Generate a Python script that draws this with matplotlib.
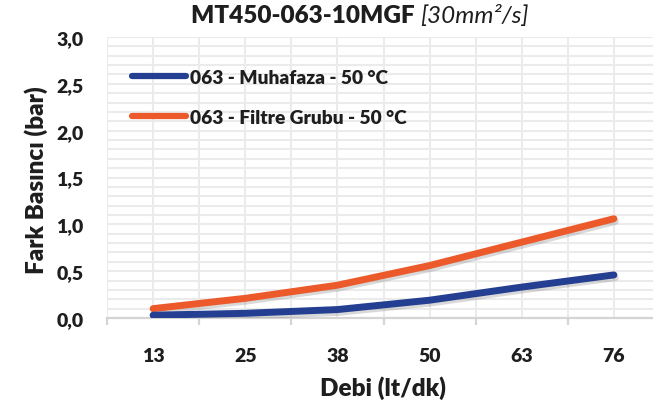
import matplotlib
matplotlib.use('Agg')
import matplotlib.pyplot as plt
from matplotlib import patheffects as pe
from matplotlib.lines import Line2D
from matplotlib.offsetbox import TextArea, HPacker, AnchoredOffsetbox

plt.rcParams['font.family'] = ['Lato', 'DejaVu Sans']

categories = ['13', '25', '38', '50', '63', '76']
muhafaza = [0.03, 0.05, 0.09, 0.19, 0.33, 0.46]
filtre = [0.10, 0.21, 0.35, 0.56, 0.81, 1.06]
series_labels = ['063 - Muhafaza - 50 °C', '063 - Filtre Grubu - 50 °C']
yticks = [0.0, 0.5, 1.0, 1.5, 2.0, 2.5, 3.0]
ytick_labels = ['0,0', '0,5', '1,0', '1,5', '2,0', '2,5', '3,0']

BLUE = '#243F91'
ORANGE = '#EC5A2B'
TXT = '#1E1E1E'
GRID = '#EBEBEB'
WEIGHT = 'heavy'

W, H = 653, 410
fig = plt.figure(figsize=(W / 100, H / 100), dpi=100)
ax = fig.add_axes([107 / W, 91 / H, 553 / W, 281 / H])

x = list(range(len(categories)))
shadow = [pe.SimpleLineShadow(offset=(1.0, -2.0), shadow_color='#555555', alpha=0.22), pe.Normal()]
ax.plot(x, muhafaza, color=BLUE, lw=5, solid_capstyle='round', solid_joinstyle='round',
        path_effects=shadow, zorder=4)
ax.plot(x, filtre, color=ORANGE, lw=5, solid_capstyle='round', solid_joinstyle='round',
        path_effects=shadow, zorder=3)

ax.set_xlim(-0.5, len(categories) - 0.5)
ax.set_ylim(0, 3.0)

ax.set_xticks(x)
ax.set_xticklabels(categories)
ax.set_xticks([i - 0.5 for i in range(len(categories) + 1)], minor=True)
ax.set_yticks(yticks)
ax.set_yticklabels(ytick_labels)
ax.set_yticks([i / 10 for i in range(31)], minor=True)

ax.grid(True, which='both', axis='both', color=GRID, lw=1.5, zorder=0)
ax.set_axisbelow(True)

for s in ['top', 'right', 'left']:
    ax.spines[s].set_visible(False)
ax.spines['bottom'].set_color('#D4D4D4')
ax.spines['bottom'].set_linewidth(1.6)

ax.tick_params(axis='x', which='major', length=0, pad=21, labelsize=14, labelcolor=TXT)
ax.tick_params(axis='x', which='minor', length=5, width=1.6, color='#D4D4D4')
ax.tick_params(axis='y', which='both', length=0, pad=17, labelsize=14, labelcolor=TXT)
for lab in ax.get_xticklabels() + ax.get_yticklabels():
    lab.set_fontweight(WEIGHT)

fig.text(36 / W, 1 - 180 / H, 'Fark Basıncı (bar)', rotation=90, ha='center', va='center',
         fontsize=17.5, fontweight=WEIGHT, color=TXT)
fig.text(383 / W, 1 - 388 / H, 'Debi (lt/dk)', ha='center', va='center',
         fontsize=17.5, fontweight=WEIGHT, color=TXT)

t1 = TextArea('MT450-063-10MGF ', textprops=dict(fontweight=WEIGHT, fontsize=17.5, color=TXT))
t2 = TextArea('[30mm²/s]', textprops=dict(fontstyle='italic', fontsize=17.5, color=TXT))
box = HPacker(children=[t1, t2], align='baseline', pad=0, sep=0)
anch = AnchoredOffsetbox(loc='center', child=box, bbox_to_anchor=(360 / W, 1 - 16 / H),
                         bbox_transform=fig.transFigure, frameon=False, pad=0, borderpad=0)
fig.add_artist(anch)

handles = [Line2D([], [], color=BLUE, lw=4.5, solid_capstyle='round'),
           Line2D([], [], color=ORANGE, lw=4.5, solid_capstyle='round')]
leg = ax.legend(handles, series_labels, loc='upper left', bbox_to_anchor=(132 / W, 1 - 70 / H),
                bbox_transform=fig.transFigure, frameon=False, handlelength=2.8,
                handletextpad=0.2, labelspacing=1.2, borderpad=0, borderaxespad=0,
                prop=dict(weight=WEIGHT, size=13.8))
for t in leg.get_texts():
    t.set_color(TXT)

fig.savefig('out.png', dpi=100)
